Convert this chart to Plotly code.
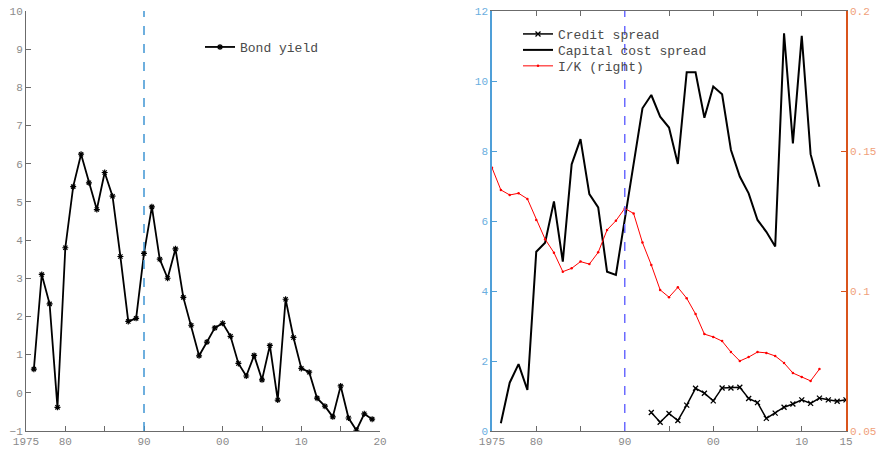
import plotly.graph_objects as go

# ---------------- data ----------------
bond_years = list(range(1976, 2020))
bond_yield = [0.62, 3.10, 2.33, -0.38, 3.80, 5.40, 6.25, 5.50, 4.80, 5.77,
              5.15, 3.57, 1.87, 1.95, 3.65, 4.87, 3.50, 3.00, 3.77, 2.50,
              1.77, 0.97, 1.33, 1.70, 1.82, 1.48, 0.77, 0.44, 0.98, 0.34,
              1.24, -0.19, 2.45, 1.45, 0.64, 0.54, -0.14, -0.35, -0.63, 0.18,
              -0.66, -0.98, -0.55, -0.69]

ccs_years = list(range(1976, 2013))
capital_cost_spread = [0.22, 1.38, 1.91, 1.17, 5.12, 5.38, 6.56, 4.84, 7.62, 8.34,
                       6.77, 6.39, 4.55, 4.46, 6.04, 7.63, 9.22, 9.60, 8.98, 8.67,
                       7.63, 10.25, 10.25, 8.95, 9.84, 9.62, 8.03, 7.27, 6.79, 6.03,
                       5.69, 5.27, 11.36, 8.22, 11.29, 7.91, 6.98]

cs_years = list(range(1993, 2016))
credit_spread = [0.53, 0.25, 0.50, 0.30, 0.74, 1.22, 1.08, 0.86, 1.23, 1.23,
                 1.25, 0.93, 0.81, 0.36, 0.51, 0.68, 0.77, 0.89, 0.79, 0.94,
                 0.89, 0.85, 0.89]

ik_years = list(range(1975, 2013))
ik_ratio = [0.1440, 0.1361, 0.1343, 0.1349, 0.1329, 0.1254, 0.1185, 0.1137, 0.1069, 0.1081,
            0.1105, 0.1096, 0.1138, 0.1218, 0.1251, 0.1295, 0.1277, 0.1173, 0.1093, 0.1004,
            0.0978, 0.1013, 0.0974, 0.0918, 0.0846, 0.0836, 0.0821, 0.0782, 0.0750, 0.0764,
            0.0782, 0.0779, 0.0768, 0.0743, 0.0707, 0.0693, 0.0679, 0.0721]

break_year = 1990

left_xticks = [1975, 1980, 1985, 1990, 1995, 2000, 2005, 2010, 2015, 2020]
left_xlabels = ["1975", "80", "", "90", "", "00", "", "10", "", "20"]
right_xticks = [1975, 1980, 1985, 1990, 1995, 2000, 2005, 2010, 2015]
right_xlabels = ["1975", "80", "", "90", "", "00", "", "10", "15"]
left_yticks = list(range(-1, 11))
right_yticks = list(range(0, 13, 2))
ik_ticks = [0.05, 0.1, 0.15, 0.2]

# ---------------- style ----------------
FONT = "Liberation Mono"
GRAY_LINE = "#6b6b6b"
GRAY_TXT = "#8a8a8a"
BLUE_AX = "#4f9fd8"
BLUE_TXT = "#6aaee0"
ORANGE_AX = "#d9541c"
ORANGE_TXT = "#f0a07a"
LEG_TXT = "#4a4a4a"

fig = go.Figure()

fig.add_trace(go.Scatter(
    x=bond_years, y=bond_yield, mode="lines+markers", name="Bond yield",
    line=dict(color="black", width=1.8),
    marker=dict(symbol="asterisk", size=5, color="black",
                line=dict(color="black", width=1.2)),
    xaxis="x", yaxis="y", legend="legend"))

fig.add_trace(go.Scatter(
    x=cs_years, y=credit_spread, mode="lines+markers", name="Credit spread",
    line=dict(color="black", width=1.5),
    marker=dict(symbol="x-thin", size=5, color="black",
                line=dict(color="black", width=1.3)),
    xaxis="x2", yaxis="y2", legend="legend2"))

fig.add_trace(go.Scatter(
    x=ccs_years, y=capital_cost_spread, mode="lines", name="Capital cost spread",
    line=dict(color="black", width=2),
    xaxis="x2", yaxis="y2", legend="legend3"))

fig.add_trace(go.Scatter(
    x=ik_years, y=ik_ratio, mode="lines+markers", name="I/K (right)",
    line=dict(color="red", width=1),
    marker=dict(symbol="circle", size=2.5, color="red"),
    xaxis="x2", yaxis="y3", legend="legend4"))

# vertical break lines
fig.add_shape(type="line", xref="x", yref="y", x0=break_year, x1=break_year,
              y0=left_yticks[0], y1=left_yticks[-1],
              line=dict(color="#3f95d3", width=1.5, dash="dash"))
fig.add_shape(type="line", xref="x2", yref="y2", x0=break_year, x1=break_year,
              y0=right_yticks[0], y1=right_yticks[-1],
              line=dict(color="#6b6bff", width=1.5, dash="dash"))

tickfont = dict(family=FONT, size=11, color=GRAY_TXT)


def leg(x, y):
    return dict(x=x, y=y, xanchor="left", yanchor="top",
                bgcolor="rgba(0,0,0,0)", borderwidth=0,
                font=dict(family=FONT, size=13, color=LEG_TXT))


fig.update_layout(
    width=878, height=453,
    margin=dict(l=0, r=0, t=11, b=22),
    paper_bgcolor="white", plot_bgcolor="white",
    font=dict(family=FONT, size=13, color="#555555"),
    xaxis=dict(domain=[26 / 878, 380 / 878], range=[1975, 2020],
               tickvals=left_xticks, ticktext=left_xlabels,
               ticks="inside", ticklen=5, tickcolor=GRAY_LINE,
               showline=True, linecolor=GRAY_LINE, linewidth=1,
               showgrid=False, zeroline=False, tickfont=tickfont,
               automargin=False, anchor="y"),
    yaxis=dict(domain=[0, 1], range=[-1, 10], tickvals=left_yticks,
               ticks="inside", ticklen=5, tickcolor=GRAY_LINE,
               showline=True, linecolor=GRAY_LINE, linewidth=1,
               showgrid=False, zeroline=False, tickfont=tickfont,
               automargin=False, anchor="x"),
    xaxis2=dict(domain=[492 / 878, 846 / 878], range=[1975, 2015],
                tickvals=right_xticks, ticktext=right_xlabels,
                ticks="inside", ticklen=5, tickcolor=GRAY_LINE,
                showline=True, linecolor=GRAY_LINE, linewidth=1, mirror="ticks",
                showgrid=False, zeroline=False, tickfont=tickfont,
                automargin=False, anchor="y2"),
    yaxis2=dict(domain=[0, 1], range=[0, 12], tickvals=right_yticks,
                ticks="inside", ticklen=5, tickcolor=BLUE_AX,
                showline=True, linecolor=BLUE_AX, linewidth=1.5,
                showgrid=False, zeroline=False,
                tickfont=dict(family=FONT, size=11, color=BLUE_TXT),
                automargin=False, anchor="x2"),
    yaxis3=dict(range=[0.05, 0.2], tickvals=ik_ticks, overlaying="y2", side="right",
                ticks="inside", ticklen=5, tickcolor=ORANGE_AX,
                showline=True, linecolor=ORANGE_AX, linewidth=1.5,
                showgrid=False, zeroline=False,
                tickfont=dict(family=FONT, size=11, color=ORANGE_TXT),
                automargin=False, anchor="x2"),
    legend=leg(200 / 878, 0.95),
    legend2=leg(518 / 878, 0.981),
    legend3=leg(518 / 878, 0.943),
    legend4=leg(518 / 878, 0.905),
    showlegend=True,
)

fig.write_html("out.html")
